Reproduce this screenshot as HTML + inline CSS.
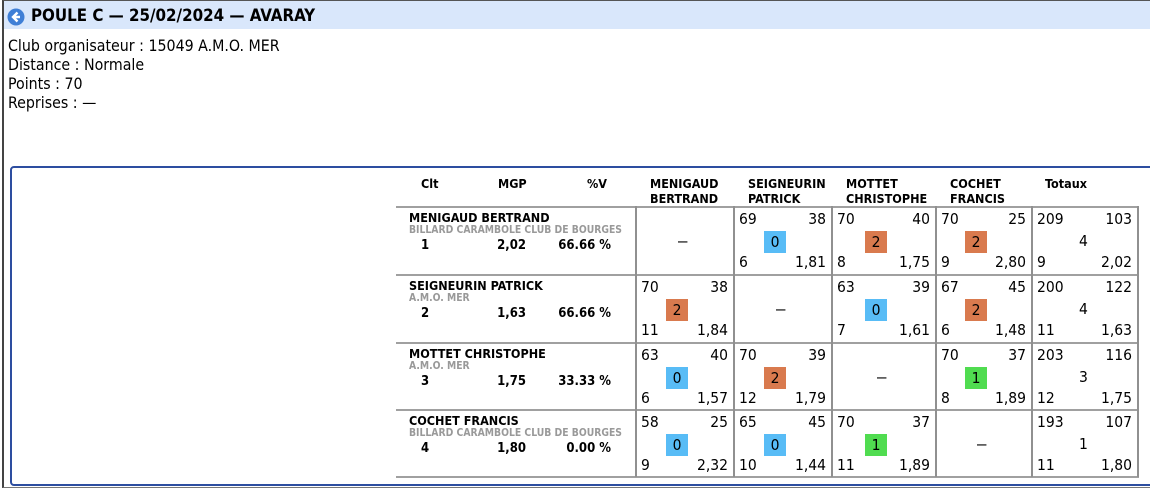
<!DOCTYPE html>
<html><head><meta charset="utf-8"><style>
body{margin:0;width:1150px;height:489px;overflow:hidden;background:#fff;font-family:Tahoma,"DejaVu Sans Condensed","Liberation Sans",sans-serif;position:relative;color:#000}
.a{position:absolute;white-space:nowrap}
#outer{position:absolute;left:2px;top:0;width:1160px;height:486px;border-left:2px solid #444;border-top:1px solid #555;border-bottom:1px solid #777}
#hdr{position:absolute;left:4px;top:1px;width:1146px;height:28px;background:#d9e7fb}
#frame{position:absolute;left:10px;top:166px;width:1150px;height:316px;border:2px solid #2d4ea0;border-radius:4px}
.b{font-weight:bold}
.c{font-size:15.5px;font-family:"DejaVu Sans Condensed","Liberation Sans",sans-serif}
.badge{position:absolute;width:22px;height:22px;line-height:22px;text-align:center;font-size:15.5px;font-family:"DejaVu Sans Condensed","Liberation Sans",sans-serif}
.hl{position:absolute;height:2px;background:#a0a0a0}
.vl{position:absolute;width:2px;background:#909090}
</style></head><body>
<div id="outer"></div>
<div id="hdr"></div>
<svg class="a" style="left:7px;top:8px" width="18" height="18"><circle cx="9" cy="9" r="8.5" fill="#3f7fd6"/><path d="M10.5 4.5 L6 9 L10.5 13.5 M6.5 9 H13" stroke="#fff" stroke-width="2.4" fill="none"/></svg>
<div class="a b" style="left:31px;top:5px;font-size:16.8px;font-family:'DejaVu Sans Condensed','Liberation Sans',sans-serif">POULE C — 25/02/2024 — AVARAY</div>
<div class="a" style="left:8px;top:36px;font-size:15.8px;line-height:19px;font-family:'DejaVu Sans Condensed','Liberation Sans',sans-serif">Club organisateur : 15049 A.M.O. MER<br>Distance : Normale<br>Points : 70<br>Reprises : —</div>
<div id="frame"></div>
<div id="tbl"></div>
<script>
const players=["MENIGAUD BERTRAND","SEIGNEURIN PATRICK","MOTTET CHRISTOPHE","COCHET FRANCIS"];
const heads=[["MENIGAUD","BERTRAND"],["SEIGNEURIN","PATRICK"],["MOTTET","CHRISTOPHE"],["COCHET","FRANCIS"]];
const clubs=["BILLARD CARAMBOLE CLUB DE BOURGES","A.M.O. MER","A.M.O. MER","BILLARD CARAMBOLE CLUB DE BOURGES"];
const clt=["1","2","3","4"];
const mgp=["2,02","1,63","1,75","1,80"];
const pctV=["66.66 %","66.66 %","33.33 %","0.00 %"];
// match cells [points, opp points, match pts, reprises, moyenne]
const matches=[
 [null,["69","38","0","6","1,81"],["70","40","2","8","1,75"],["70","25","2","9","2,80"]],
 [["70","38","2","11","1,84"],null,["63","39","0","7","1,61"],["67","45","2","6","1,48"]],
 [["63","40","0","6","1,57"],["70","39","2","12","1,79"],null,["70","37","1","8","1,89"]],
 [["58","25","0","9","2,32"],["65","45","0","10","1,44"],["70","37","1","11","1,89"],null]];
const totals=[["209","103","4","9","2,02"],["200","122","4","11","1,63"],["203","116","3","12","1,75"],["193","107","1","11","1,80"]];
const colX=[636,734,832,936,1032,1138];
const rowY=[207,275,343,410,477];
const badgeColors={"0":"#58bcf6","2":"#d97a4e","1":"#50dc50"};
const T=document.getElementById('tbl');
function add(cls,style,text,name){const d=document.createElement('div');d.className=cls;d.style.cssText=style;if(text!==undefined)d.textContent=text;


T.appendChild(d);return d;}
add('a b','left:421px;top:176px;font-size:12.5px','Clt','header-clt');
add('a b','left:498px;top:176px;font-size:12.5px','MGP','header-mgp');
add('a b','left:587px;top:176px;font-size:12.5px','%V','header-pctv');
heads.forEach((h,i)=>{add('a b','left:'+(colX[i]+14)+'px;top:176px;font-size:12.5px;line-height:15px',h[0]+'\n'+h[1],'header-player').style.whiteSpace='pre';});
add('a b','left:1045px;top:176px;font-size:12.5px','Totaux','header-totaux');
rowY.forEach((y,i)=>add('hl','left:396px;top:'+(y-1)+'px;width:743px','', 'row-line'));
for(let c=0;c<colX.length;c++)add('vl','left:'+(colX[c]-1)+'px;top:'+(rowY[0]-1)+'px;height:'+(rowY[4]-rowY[0]+1)+'px','','column-line');
function cell(x0,x1,y,v,isTot,name){
 add('a c','left:'+(x0+5)+'px;top:'+(y+3)+'px',v[0],name+'-points');
 add('a c','left:'+(x0)+'px;width:'+(x1-x0-6)+'px;text-align:right;top:'+(y+3)+'px',v[1],name+'-serie');
 const cx=(x0+x1)/2;
 if(isTot){add('a c','left:'+(cx-6)+'px;top:'+(y+25)+'px',v[2],name+'-total-pts');}
 else{add('badge','left:'+(cx-19)+'px;top:'+(y+24)+'px;background:'+badgeColors[v[2]],v[2],name+'-badge');}
 add('a c','left:'+(x0+5)+'px;top:'+(y+46)+'px',v[3],name+'-reprises');
 add('a c','left:'+(x0)+'px;width:'+(x1-x0-6)+'px;text-align:right;top:'+(y+46)+'px',v[4],name+'-moyenne');
}
players.forEach((p,r)=>{
 const y=rowY[r];
 add('a b','left:409px;top:'+(y+3)+'px;font-size:12.5px',p,'player-name');
 add('a b','left:409px;top:'+(y+17)+'px;font-size:10.3px;color:#999',clubs[r],'player-club');
 add('a b','left:421px;top:'+(y+31)+'px;font-size:13px',clt[r],'player-rank');
 add('a b','left:440px;width:86px;text-align:right;top:'+(y+31)+'px;font-size:13px',mgp[r],'player-mgp');
 add('a b','left:520px;width:91px;text-align:right;top:'+(y+31)+'px;font-size:13px',pctV[r],'player-pctv');
 for(let c=0;c<4;c++){
  const m=matches[r][c];
  if(!m){add('a','left:'+((colX[c]+colX[c+1])/2-7)+'px;top:'+(y+24)+'px;font-size:17px;font-family:"Liberation Sans",sans-serif','–','self-cell');}
  else cell(colX[c],colX[c+1],y,m,false,'match-cell');
 }
 cell(colX[4],colX[5],y,totals[r],true,'totals-cell');
});
</script>
</body></html>
